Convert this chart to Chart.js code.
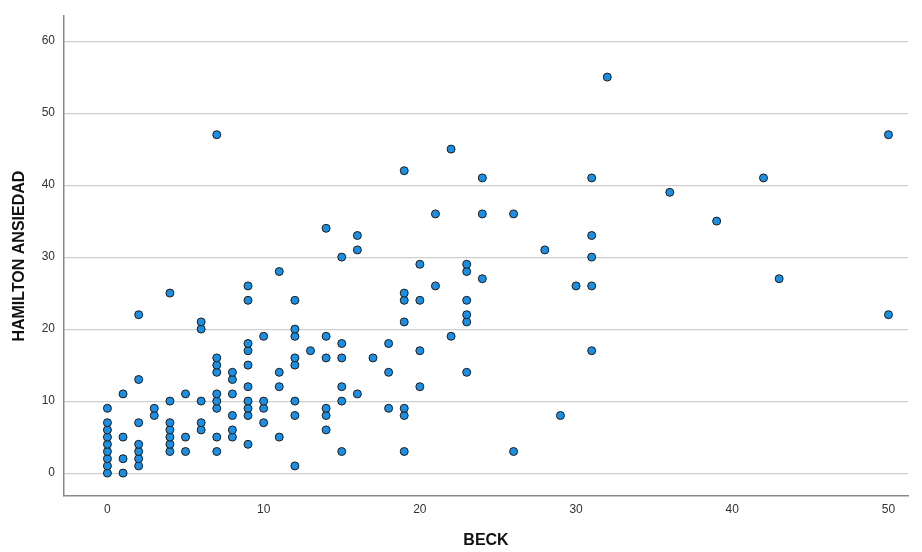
<!DOCTYPE html>
<html>
<head>
<meta charset="utf-8">
<script src="https://cdn.jsdelivr.net/npm/chart.js@4"></script>
<style>
  html, body { margin: 0; padding: 0; background: #fff; }
  #wrap { width: 922px; height: 552px; }
</style>
</head>
<body>
<div id="wrap"><canvas id="scatter" width="922" height="552"></canvas></div>
<script>
// BECK score per case, and matching HAMILTON ANSIEDAD scores
const beck = [
    0, 0, 0, 0, 0, 0, 0, 0, 0,
    1, 1, 1, 1,
    2, 2, 2, 2, 2, 2, 2,
    3, 3,
    4, 4, 4, 4, 4, 4, 4,
    5, 5, 5,
    6, 6, 6, 6, 6,
    7, 7, 7, 7, 7, 7, 7, 7, 7,
    8, 8, 8, 8, 8, 8,
    9, 9, 9, 9, 9, 9, 9, 9, 9, 9,
    10, 10, 10, 10,
    11, 11, 11, 11,
    12, 12, 12, 12, 12, 12, 12, 12,
    13,
    14, 14, 14, 14, 14, 14,
    15, 15, 15, 15, 15, 15,
    16, 16, 16,
    17,
    18, 18, 18,
    19, 19, 19, 19, 19, 19, 19,
    20, 20, 20, 20,
    21, 21,
    22, 22,
    23, 23, 23, 23, 23, 23,
    24, 24, 24,
    26, 26,
    28, 29, 30,
    31, 31, 31, 31, 31,
    32, 36, 39, 42, 43,
    50, 50
];
const hamilton = [
    0, 1, 2, 3, 4, 5, 6, 7, 9,
    0, 2, 5, 11,
    1, 2, 3, 4, 7, 13, 22,
    8, 9,
    3, 4, 5, 6, 7, 10, 25,
    3, 5, 11,
    6, 7, 10, 20, 21,
    3, 5, 9, 10, 11, 14, 15, 16, 47,
    5, 6, 8, 11, 13, 14,
    4, 8, 9, 10, 12, 15, 17, 18, 24, 26,
    7, 9, 10, 19,
    5, 12, 14, 28,
    1, 8, 10, 15, 16, 19, 20, 24,
    17,
    6, 8, 9, 16, 19, 34,
    3, 10, 12, 16, 18, 30,
    11, 31, 33,
    16,
    9, 14, 18,
    3, 8, 9, 21, 24, 25, 42,
    12, 17, 24, 29,
    26, 36,
    19, 45,
    14, 21, 22, 24, 28, 29,
    27, 36, 41,
    3, 36,
    31, 8, 26,
    17, 26, 30, 33, 41,
    55, 39, 35, 41, 27,
    22, 47
];
const xTicks = [0, 10, 20, 30, 40, 50];
const yTicks = [0, 10, 20, 30, 40, 50, 60];

const points = beck.map((b, i) => ({ x: b, y: hamilton[i] }));

const tickFont = { family: "'Liberation Sans', Arial, sans-serif", size: 12 };
const titleFont = { family: "'Liberation Sans', Arial, sans-serif", size: 16, weight: "bold" };

new Chart(document.getElementById("scatter"), {
    type: "scatter",
    data: {
        datasets: [{
            data: points,
            backgroundColor: "#1a8fe3",
            borderColor: "#1c1c1c",
            borderWidth: 1,
            pointRadius: 4,
            pointHoverRadius: 4
        }]
    },
    options: {
        responsive: false,
        animation: false,
        events: [],
        layout: { padding: { top: 14, right: 14, left: 0, bottom: 0 } },
        plugins: { legend: { display: false }, tooltip: { enabled: false } },
        scales: {
            x: {
                type: "linear",
                min: -2.78,
                max: 51.25,
                afterBuildTicks: axis => { axis.ticks = xTicks.map(v => ({ value: v })); },
                afterFit: axis => { axis.height = 56; },
                grid: { display: false, drawTicks: false },
                border: { display: true, color: "#8a8a8a", width: 1.5 },
                ticks: { color: "#333", font: tickFont, padding: 6, maxRotation: 0 },
                title: { display: true, text: "BECK", color: "#111", font: titleFont, padding: { top: 0, bottom: 2 } }
            },
            y: {
                type: "linear",
                min: -3.18,
                max: 63.46,
                afterBuildTicks: axis => { axis.ticks = yTicks.map(v => ({ value: v })); },
                afterFit: axis => { axis.width = 64; },
                grid: { color: "#cfcfcf", lineWidth: 1.2, drawTicks: false },
                border: { display: true, color: "#8a8a8a", width: 1.5 },
                ticks: { color: "#333", font: tickFont, padding: 9 },
                title: { display: true, text: "HAMILTON ANSIEDAD", color: "#111", font: titleFont, padding: { top: 10, bottom: 0 } }
            }
        }
    }
});
</script>
</body>
</html>
